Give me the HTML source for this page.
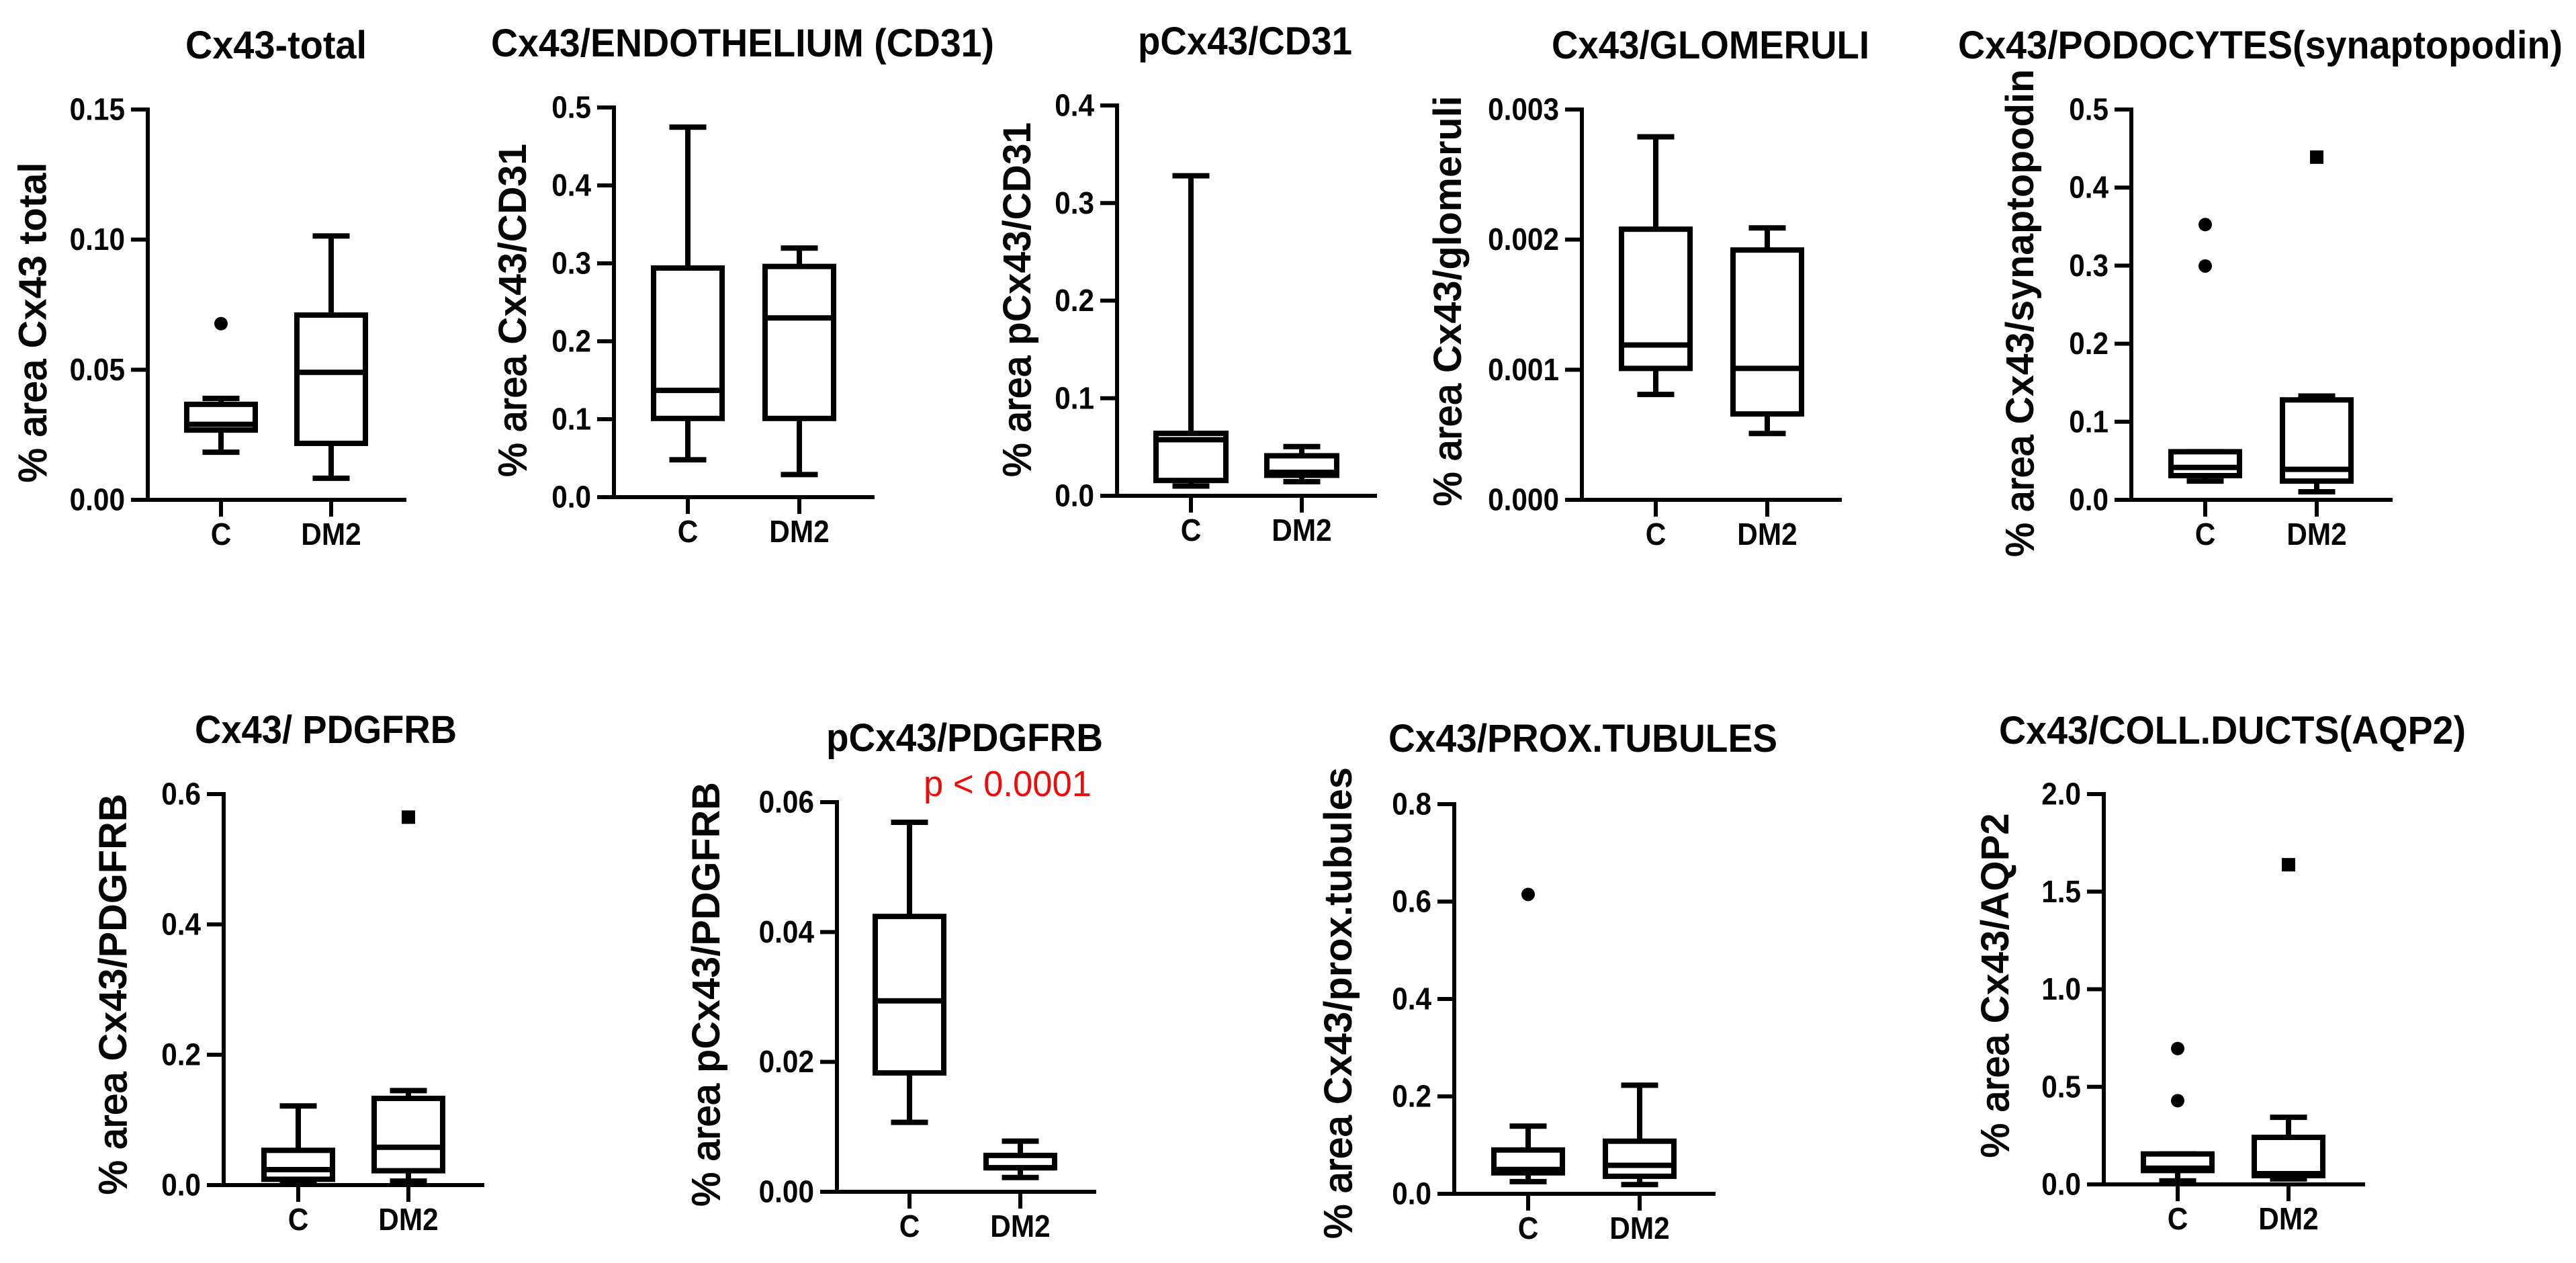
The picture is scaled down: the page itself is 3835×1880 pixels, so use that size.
<!DOCTYPE html>
<html lang="en">
<head>
<meta charset="utf-8">
<title>Cx43 box plots</title>
<style>
html,body{margin:0;padding:0;background:#fff;width:3835px;height:1880px;overflow:hidden}
svg{display:block}
text{font-family:"Liberation Sans",Arial,sans-serif;fill:#050505}
</style>
</head>
<body>
<svg id="figure" xmlns="http://www.w3.org/2000/svg" width="3835" height="1880" viewBox="0 0 3835 1880"></svg>
<script>
// ---------- data ----------
const panelKeys = ['cx43-total','cx43-cd31','pcx43-cd31','cx43-glomeruli','cx43-synaptopodin','cx43-pdgfrb','pcx43-pdgfrb','cx43-prox-tubules','cx43-aqp2'];
const titles = ['Cx43-total','Cx43/ENDOTHELIUM (CD31)','pCx43/CD31','Cx43/GLOMERULI','Cx43/PODOCYTES(synaptopodin)','Cx43/ PDGFRB','pCx43/PDGFRB','Cx43/PROX.TUBULES','Cx43/COLL.DUCTS(AQP2)'];
const yTitlesBold = ['Cx43 total','Cx43/CD31','pCx43/CD31','Cx43/glomeruli','Cx43/synaptopodin','Cx43/PDGFRB','pCx43/PDGFRB','Cx43/prox.tubules','Cx43/AQP2'];
const categories = ['C','DM2'];
const tickLabels = [
  ['0.00','0.05','0.10','0.15'],
  ['0.0','0.1','0.2','0.3','0.4','0.5'],
  ['0.0','0.1','0.2','0.3','0.4'],
  ['0.000','0.001','0.002','0.003'],
  ['0.0','0.1','0.2','0.3','0.4','0.5'],
  ['0.0','0.2','0.4','0.6'],
  ['0.00','0.02','0.04','0.06'],
  ['0.0','0.2','0.4','0.6','0.8'],
  ['0.0','0.5','1.0','1.5','2.0']
];
const cWhiskerHigh = [0.039,0.4748,0.328,0.00279,0.0616,0.1214,0.0569,0.139,0.156];
const cQ3          = [0.0367,0.294,0.064,0.00208,0.0616,0.0533,0.0424,0.090,0.156];
const cMedian      = [0.029,0.137,0.0575,0.00119,0.0415,0.0237,0.0294,0.05,0.083];
const cQ1          = [0.0268,0.101,0.0157,0.00101,0.031,0.0089,0.0183,0.043,0.071];
const cWhiskerLow  = [0.0183,0.048,0.010,0.00081,0.024,0.004,0.0107,0.025,0.018];
const cOutliers    = [[0.0677],[],[],[],[0.3526,0.2995],[],[],[0.6147],[0.696,0.429]];
const dWhiskerHigh = [0.1014,0.3196,0.0504,0.00209,0.133,0.145,0.0078,0.223,0.344];
const dQ3          = [0.071,0.296,0.041,0.00192,0.128,0.133,0.0056,0.108,0.241];
const dMedian      = [0.049,0.230,0.024,0.00101,0.039,0.058,0.0037,0.0585,0.055];
const dQ1          = [0.0217,0.101,0.021,0.00066,0.024,0.022,0.0037,0.036,0.045];
const dWhiskerLow  = [0.0083,0.029,0.0145,0.00051,0.0103,0.006,0.0022,0.019,0.028];
const dOutliers    = [[],[],[],[],[0.439],[0.5646],[],[],[1.638]];
const annotationText = 'p < 0.0001';

// ---------- layout (page geometry of each panel, not data) ----------
const frames = [
  {ax:220, top:163, bot:744, end:605, xc:329, xd:493, bw:102},
  {ax:914, top:160, bot:740, end:1302,xc:1024,xd:1190,bw:102},
  {ax:1663,top:157, bot:738, end:2050,xc:1773,xd:1938,bw:104},
  {ax:2355,top:163, bot:744, end:2742,xc:2465,xd:2631,bw:102},
  {ax:3173,top:163, bot:744, end:3562,xc:3283,xd:3449,bw:102},
  {ax:333, top:1182,bot:1764,end:721, xc:444, xd:608, bw:102},
  {ax:1246,top:1194,bot:1774,end:1632,xc:1354,xd:1519,bw:102},
  {ax:2165,top:1197,bot:1777,end:2554,xc:2275,xd:2441,bw:102},
  {ax:3132,top:1182,bot:1763,end:3521,xc:3242,xd:3407,bw:102}
];
const titleBoxes = [
  {x:276,w:270,y:87},{x:731,w:749,y:84},{x:1694,w:319,y:81},{x:2310,w:473,y:87},{x:2915,w:900,y:87},
  {x:290,w:390,y:1106},{x:1230,w:412,y:1118},{x:2067,w:579,y:1119},{x:2976,w:695,y:1107}
];
const yTitleBoxes = [
  {x:68.5,c:480,l:477},{x:783,c:462,l:496},{x:1534,c:446,l:528},{x:2175,c:448,l:611},{x:3027,c:466,l:726},
  {x:188,c:1480,l:597},{x:1071,c:1480,l:632},{x:2012,c:1493,l:702},{x:2990,c:1467,l:513}
];
const STROKE_BOX = 8, STROKE_AXIS = 6, CAP = 55, TICK = 25, MARK = 20;

// ---------- drawing ----------
const NS = 'http://www.w3.org/2000/svg';
const svg = document.getElementById('figure');
function mk(tag, attrs, parent){
  const el = document.createElementNS(NS, tag);
  for (const k in attrs) el.setAttribute(k, attrs[k]);
  parent.appendChild(el);
  return el;
}
function line(x1,y1,x2,y2,w,parent){
  return mk('line',{x1:x1,y1:y1,x2:x2,y2:y2,stroke:'#000','stroke-width':w,'stroke-linecap':'butt'},parent);
}
function squeeze(el, factor){
  el.setAttribute('textLength', (el.getComputedTextLength()*factor).toFixed(1));
  el.setAttribute('lengthAdjust', 'spacingAndGlyphs');
}
function yAxisScale(i){
  const f = frames[i];
  const labels = tickLabels[i];
  const max = parseFloat(labels[labels.length-1]);
  return v => f.bot - (v/max)*(f.bot-f.top);
}

function drawBox(i, x, series, hi, q3, med, q1, lo, outs, markerShape, g){
  const y = yAxisScale(i), f = frames[i];
  const group = mk('g',{},g);
  
  

  const upper = line(x,y(hi),x,y(q3),STROKE_BOX,group);
  
  
  const upperCap = line(x-CAP/2,y(hi),x+CAP/2,y(hi),STROKE_BOX,group);
  
  

  const lower = line(x,y(q1),x,y(lo),STROKE_BOX,group);
  
  
  const lowerCap = line(x-CAP/2,y(lo),x+CAP/2,y(lo),STROKE_BOX,group);
  
  

  const box = mk('rect',{x:x-f.bw/2,y:y(q3),width:f.bw,height:y(q1)-y(q3),fill:'#fff',stroke:'#000','stroke-width':STROKE_BOX},group);
  
  
  const medLine = line(x-f.bw/2,y(med),x+f.bw/2,y(med),STROKE_BOX,group);
  
  

  outs.forEach(v => {
    let m;
    if (markerShape === 'circle') {
      m = mk('circle',{cx:x,cy:y(v),r:MARK/2,fill:'#000'},group);
    } else {
      m = mk('rect',{x:x-MARK/2,y:y(v)-MARK/2,width:MARK,height:MARK,fill:'#000'},group);
    }
    
    
  });
}

panelKeys.forEach((key,i) => {
  const f = frames[i], y = yAxisScale(i);
  const g = mk('g',{},svg);
  
  

  // title
  const tb = titleBoxes[i];
  const title = mk('text',{x:tb.x,y:tb.y,'font-size':58,'font-weight':700,textLength:tb.w,lengthAdjust:'spacingAndGlyphs'},g);
  title.textContent = titles[i];
  
  

  // y title
  const yb = yTitleBoxes[i];
  const yt = mk('text',{transform:'translate('+yb.x+','+yb.c+') rotate(-90)','text-anchor':'middle','font-size':58,'font-weight':400,textLength:yb.l,lengthAdjust:'spacingAndGlyphs'},g);
  
  
  const t1 = mk('tspan',{stroke:'#050505','stroke-width':1.6},yt); t1.textContent = '% area ';
  const t2 = mk('tspan',{'font-weight':700},yt); t2.textContent = yTitlesBold[i];

  // boxes
  drawBox(i,f.xc,'c',cWhiskerHigh[i],cQ3[i],cMedian[i],cQ1[i],cWhiskerLow[i],cOutliers[i],'circle',g);
  drawBox(i,f.xd,'dm2',dWhiskerHigh[i],dQ3[i],dMedian[i],dQ1[i],dWhiskerLow[i],dOutliers[i],'square',g);

  // y axis
  const yAxis = line(f.ax,f.top-STROKE_AXIS/2,f.ax,f.bot+STROKE_AXIS/2,STROKE_AXIS,g);
  
  
  tickLabels[i].forEach(lab => {
    const v = parseFloat(lab);
    const tk = line(f.ax-TICK,y(v),f.ax,y(v),STROKE_AXIS,g);
    
    
    const tx = mk('text',{x:f.ax-TICK-9,y:y(v)+15.5,'text-anchor':'end','font-size':46,'font-weight':700},g);
    tx.textContent = lab;
    squeeze(tx, 0.92);
    
    
  });

  // x axis
  const xAxis = line(f.ax-TICK,f.bot,f.end,f.bot,STROKE_AXIS,g);
  
  
  categories.forEach((c,ci) => {
    const x = ci === 0 ? f.xc : f.xd;
    const tk = line(x,f.bot,x,f.bot+25,STROKE_AXIS,g);
    
    
    const tx = mk('text',{x:x,y:f.bot+67,'text-anchor':'middle','font-size':46,'font-weight':700},g);
    tx.textContent = c;
    squeeze(tx, 0.92);
    
    
  });
});

const ann = mk('text',{x:1375,y:1185,'font-size':54,textLength:250,lengthAdjust:'spacingAndGlyphs',style:'fill:#f00a0a'},svg);
ann.textContent = annotationText;


</script>
</body>
</html>
